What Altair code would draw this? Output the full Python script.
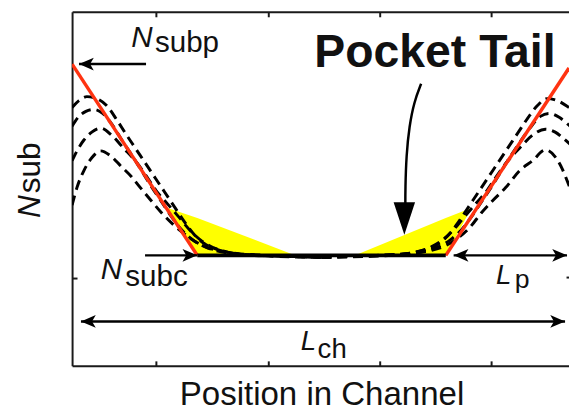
import altair as alt
import pandas as pd

# ---------------- values (arbitrary units) ----------------
W, H = 504, 359
X_DOMAIN = [0, 504]
Y_DOMAIN = [0, 359]

x_tick_values = [85, 199, 312, 425]
y_tick_left = [89]
y_tick_right = [90]

# linear (red) approximation of the pocket profile
red_side = ["left", "left", "right", "right"]
red_x = [0, 127, 379, 504]
red_y = [306, 112, 112, 302]

# flat channel doping Nsubc
flat_x = [127, 379]
flat_y = [112, 112]

# dashed simulated profiles, left pocket
l1_x = [0, 7, 15, 25, 35, 45, 54, 64, 74, 84, 94, 104, 114, 124, 134, 147, 165, 192, 227, 253]
l1_y = [262, 269, 273, 271, 264, 250, 236, 221, 206, 191, 176, 161, 146, 133, 124, 118, 114, 112, 111, 110]
l2_x = [0, 7, 14, 22, 31, 41, 51, 61, 71, 81, 91, 101, 111, 122, 134, 149, 172, 207, 253]
l2_y = [243, 253, 258, 260, 256, 244, 228, 213, 197, 181, 166, 151, 138, 128, 121, 116, 113, 111, 110]
l3_x = [0, 5, 12, 20, 29, 40, 52, 64, 75, 85, 97, 109, 120, 131, 143, 159, 182, 217, 253]
l3_y = [208, 218, 229, 237, 241, 234, 221, 208, 193, 178, 164, 150, 137, 127, 120, 115, 112, 111, 110]
l4_x = [0, 5, 12, 20, 29, 39, 50, 60, 69, 79, 90, 105, 119, 132, 147, 167, 197, 253]
l4_y = [163, 181, 198, 211, 218, 213, 202, 192, 181, 169, 156, 141, 130, 122, 117, 114, 112, 110]

# dashed simulated profiles, right pocket
r1_x = [253, 279, 314, 341, 359, 372, 382, 392, 402, 412, 422, 432, 442, 452, 462, 472, 482, 492, 504, 517]
r1_y = [110, 111, 112, 114, 118, 124, 133, 146, 161, 176, 191, 206, 221, 236, 251, 264, 271, 269, 262, 253]
r2_x = [253, 299, 334, 357, 372, 384, 395, 405, 415, 425, 435, 445, 455, 465, 475, 484, 494, 504, 517]
r2_y = [110, 111, 113, 116, 121, 128, 138, 151, 166, 181, 197, 213, 228, 242, 253, 256, 252, 244, 233]
r3_x = [253, 289, 324, 347, 363, 375, 386, 397, 409, 421, 431, 442, 454, 467, 480, 490, 499, 517]
r3_y = [110, 111, 112, 115, 120, 127, 137, 150, 164, 178, 193, 208, 221, 234, 240, 237, 230, 213]
r4_x = [253, 309, 344, 364, 379, 392, 404, 415, 427, 440, 454, 467, 480, 490, 497, 504, 512]
r4_y = [110, 112, 114, 117, 122, 130, 141, 155, 168, 181, 198, 208, 219, 212, 200, 183, 163]

# yellow "pocket tail" wedges
yl_x = [97, 127, 224]
yl_top = [160, 150, 113]
yl_bot = [160, 112, 112]
yr_x = [289, 379, 405]
yr_top = [113, 150, 160]
yr_bot = [112, 112, 160]

# arrows
arr_subp_x, arr_subp_y = [7, 75], [306, 306]
arr_subc_x, arr_subc_y = [74, 127], [112, 112]
arr_lp_x, arr_lp_y = [387, 502], [112, 112]
arr_lch_x, arr_lch_y = [9, 500], [45, 45]
arr_tail_x = [354, 347, 342, 339, 338, 338]
arr_tail_y = [286, 268, 243, 213, 180, 160]

head_x = [7, 127, 387, 502, 9, 500]
head_y = [306, 112, 112, 112, 45, 45]
head_angle = [180, 0, 180, 0, 180, 0]
big_head_x, big_head_y, big_head_angle = [337], [133], [90]

# labels
ital_text = ["N", "N", "L", "L"]
ital_x = [60, 29, 430, 232]
ital_y = [323, 88, 83, 16]
ital_size = [30, 30, 28, 28]
sub_text = ["subp", "subc", "p", "ch"]
sub_x = [84, 54, 449, 249]
sub_y = [318, 81, 79, 8]
sub_size = [30, 30, 27, 28]

# ---------------- tables ----------------
def long(pairs):
    rows = []
    for name, xs, ys in pairs:
        for i, (a, b) in enumerate(zip(xs, ys)):
            rows.append({"id": name, "i": i, "x": a, "y": b})
    return pd.DataFrame(rows)

curves_df = long([("L1", l1_x, l1_y), ("L2", l2_x, l2_y), ("L3", l3_x, l3_y), ("L4", l4_x, l4_y),
                  ("R1", r1_x, r1_y), ("R2", r2_x, r2_y), ("R3", r3_x, r3_y), ("R4", r4_x, r4_y)])
red_df = pd.DataFrame({"id": red_side, "x": red_x, "y": red_y})
flat_df = pd.DataFrame({"x": flat_x, "y": flat_y})
yellow_df = pd.concat([
    pd.DataFrame({"id": "left", "x": yl_x, "y": yl_top, "y2": yl_bot}),
    pd.DataFrame({"id": "right", "x": yr_x, "y": yr_top, "y2": yr_bot}),
])
arrows_df = long([("subp", arr_subp_x, arr_subp_y), ("subc", arr_subc_x, arr_subc_y),
                  ("lp", arr_lp_x, arr_lp_y), ("lch", arr_lch_x, arr_lch_y),
                  ("tail", arr_tail_x, arr_tail_y)])
heads_df = pd.DataFrame({"x": head_x, "y": head_y, "a": head_angle})
big_head_df = pd.DataFrame({"x": big_head_x, "y": big_head_y, "a": big_head_angle})
ital_df = pd.DataFrame({"t": ital_text, "x": ital_x, "y": ital_y, "s": ital_size})
sub_df = pd.DataFrame({"t": sub_text, "x": sub_x, "y": sub_y, "s": sub_size})
title_df = pd.DataFrame({"t": ["Pocket Tail"], "x": [368], "y": [303]})
xtitle_df = pd.DataFrame({"t": ["Position in Channel"], "x": [253.5], "y": [-40]})
ytitle_ital_df = pd.DataFrame({"t": ["N"], "x": [-33], "y": [150]})
ytitle_sub_df = pd.DataFrame({"t": ["sub"], "x": [-33], "y": [175]})

# ---------------- encodings ----------------
xs = alt.Scale(domain=X_DOMAIN, nice=False, zero=False)
ys = alt.Scale(domain=Y_DOMAIN, nice=False, zero=False)
AX = dict(labels=False, title=None, grid=False, tickSize=5, tickWidth=2, domainWidth=2,
          domainColor="#1a1a1a", tickColor="#1a1a1a")

def X(axis=None, f="x"):
    return alt.X(f"{f}:Q", scale=xs, axis=axis)

def Y(axis=None, f="y"):
    return alt.Y(f"{f}:Q", scale=ys, axis=axis)

FONT = "Liberation Sans"
INK = "#111111"

yellow = alt.Chart(yellow_df).mark_area(color="#ffff00", opacity=1).encode(
    x=X(), y=Y(), y2="y2:Q", detail="id:N")

dashed = alt.Chart(curves_df).mark_line(color="black", strokeWidth=3, strokeDash=[10, 6],
                                        interpolate="monotone", clip=True).encode(
    x=X(), y=Y(), detail="id:N", order="i:Q")

red = alt.Chart(red_df).mark_line(color="#ff3311", strokeWidth=3.5, clip=True).encode(
    x=X(alt.Axis(orient="bottom", offset=-H, values=x_tick_values, **AX)),
    y=Y(alt.Axis(orient="right", offset=-W, values=y_tick_left, **AX)),
    detail="id:N")

flat = alt.Chart(flat_df).mark_line(color="black", strokeWidth=4).encode(
    x=X(alt.Axis(orient="top", offset=-H, values=x_tick_values, **AX)),
    y=Y(alt.Axis(orient="left", offset=-(W + 2), values=y_tick_right, domain=False,
                 labels=False, title=None, grid=False, tickSize=5, tickWidth=2, tickColor="#1a1a1a")))

arrows = alt.Chart(arrows_df).mark_line(color="black", strokeWidth=2.5, interpolate="basis").encode(
    x=X(), y=Y(), detail="id:N", order="i:Q")

heads = alt.Chart(heads_df).mark_point(shape="M0,0L-1,-0.43L-0.75,0L-1,0.43Z", filled=True,
                                       size=900, color="black", opacity=1, strokeWidth=0).encode(
    x=X(), y=Y(), angle=alt.Angle("a:Q", scale=None))

big_head = alt.Chart(big_head_df).mark_point(shape="M0,0L-1,-0.33L-1,0.33Z", filled=True,
                                             size=4356, color="black", opacity=1, strokeWidth=0).encode(
    x=X(), y=Y(), angle=alt.Angle("a:Q", scale=None))

ital = alt.Chart(ital_df).mark_text(font=FONT, fontStyle="italic", align="left",
                                    baseline="alphabetic", color=INK).encode(
    x=X(), y=Y(), text="t:N", size=alt.Size("s:Q", scale=None))

subs = alt.Chart(sub_df).mark_text(font=FONT, align="left", baseline="alphabetic", color=INK).encode(
    x=X(), y=Y(), text="t:N", size=alt.Size("s:Q", scale=None))

title = alt.Chart(title_df).mark_text(font=FONT, fontWeight="bold", fontSize=47, align="center",
                                      baseline="alphabetic", color=INK).encode(
    x=X(), y=Y(), text="t:N")

xtitle = alt.Chart(xtitle_df).mark_text(font=FONT, fontSize=33.5, align="center",
                                        baseline="alphabetic", color=INK).encode(
    x=X(), y=Y(), text="t:N")

ytitle_n = alt.Chart(ytitle_ital_df).mark_text(font=FONT, fontStyle="italic", fontSize=32, angle=270,
                                               align="left", baseline="alphabetic", color=INK).encode(
    x=X(), y=Y(), text="t:N")

ytitle_s = alt.Chart(ytitle_sub_df).mark_text(font=FONT, fontSize=32, angle=270,
                                              align="left", baseline="alphabetic", color=INK).encode(
    x=X(), y=Y(), text="t:N")

chart = alt.layer(
    yellow, dashed, red, flat, arrows, heads, big_head,
    ital, subs, title, xtitle, ytitle_n, ytitle_s
).resolve_axis(x="independent", y="independent").properties(
    width=W, height=H,
    padding={"left": 65, "top": 1, "right": 0, "bottom": 47},
    autosize=alt.AutoSizeParams(type="none"),
).configure_view(strokeWidth=0)

chart.save("out.html", embed_options={"renderer": "svg", "actions": False})
